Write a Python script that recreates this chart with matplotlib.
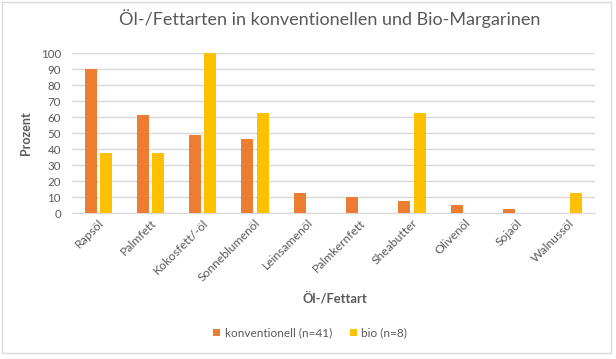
import matplotlib
matplotlib.use("Agg")
import matplotlib.pyplot as plt
import numpy as np
from matplotlib.patches import Rectangle

categories = ["Rapsöl", "Palmfett", "Kokosfett/-öl", "Sonneblumenöl", "Leinsamenöl",
              "Palmkernfett", "Sheabutter", "Olivenöl", "Sojaöl", "Walnussöl"]
konventionell = [90.2, 61.0, 48.8, 46.3, 12.2, 9.8, 7.3, 4.9, 2.4, 0.0]
bio = [37.5, 37.5, 100.0, 62.5, 0.0, 0.0, 62.5, 0.0, 0.0, 12.5]
yticks = [0, 10, 20, 30, 40, 50, 60, 70, 80, 90, 100]

plt.rcParams['font.family'] = ['Lato', 'DejaVu Sans']

fig = plt.figure(figsize=(6.16, 3.59), dpi=100)
W, H = 616, 359
ax = fig.add_axes([72 / W, 1 - 213 / H, (595 - 72) / W, 160 / H])

x = np.arange(len(categories))
bw = 0.23
ax.bar(x - 0.145, konventionell, bw, color="#ED7D31", label="konventionell (n=41)", zorder=3)
ax.bar(x + 0.145, bio, bw, color="#FFC000", label="bio (n=8)", zorder=3)

ax.set_xlim(-0.5, len(categories) - 0.5)
ax.set_ylim(0, 100)
ax.set_yticks(yticks)
ax.yaxis.grid(True, color="#D9D9D9", linewidth=1, zorder=0)
ax.tick_params(axis='y', length=0, labelsize=8.3, labelcolor="#595959", pad=8)
ax.tick_params(axis='x', length=0, labelsize=8.7, labelcolor="#595959", pad=3)
ax.set_xticks(x)
ax.set_xticklabels(categories, rotation=45, ha='right', rotation_mode='anchor')
for s in ["top", "right", "left"]:
    ax.spines[s].set_visible(False)
ax.spines["bottom"].set_color("#D9D9D9")

ax.set_ylabel("Prozent", fontsize=9, fontweight='bold', color="#595959", labelpad=6)
fig.text(335 / W, 1 - 298 / H, "Öl-/Fettart", fontsize=9.3, fontweight='bold',
         color="#595959", ha='center', va='center')
fig.text(330 / W, 1 - 19 / H, "Öl-/Fettarten in konventionellen und Bio-Margarinen",
         fontsize=13, color="#595959", ha='center', va='center')

leg = fig.legend(loc='center', bbox_to_anchor=(310 / W, 1 - 333 / H), ncol=2, frameon=False,
                 fontsize=8.5, handlelength=0.6, handleheight=0.6, handletextpad=0.4,
                 columnspacing=1.5)
for t in leg.get_texts():
    t.set_color("#595959")

fig.patches.append(Rectangle((1.5 / W, 1 - 353 / H), 609 / W, 351 / H, transform=fig.transFigure,
                             fill=False, edgecolor="#D9D9D9", linewidth=1))

fig.savefig("out.png", dpi=100)
